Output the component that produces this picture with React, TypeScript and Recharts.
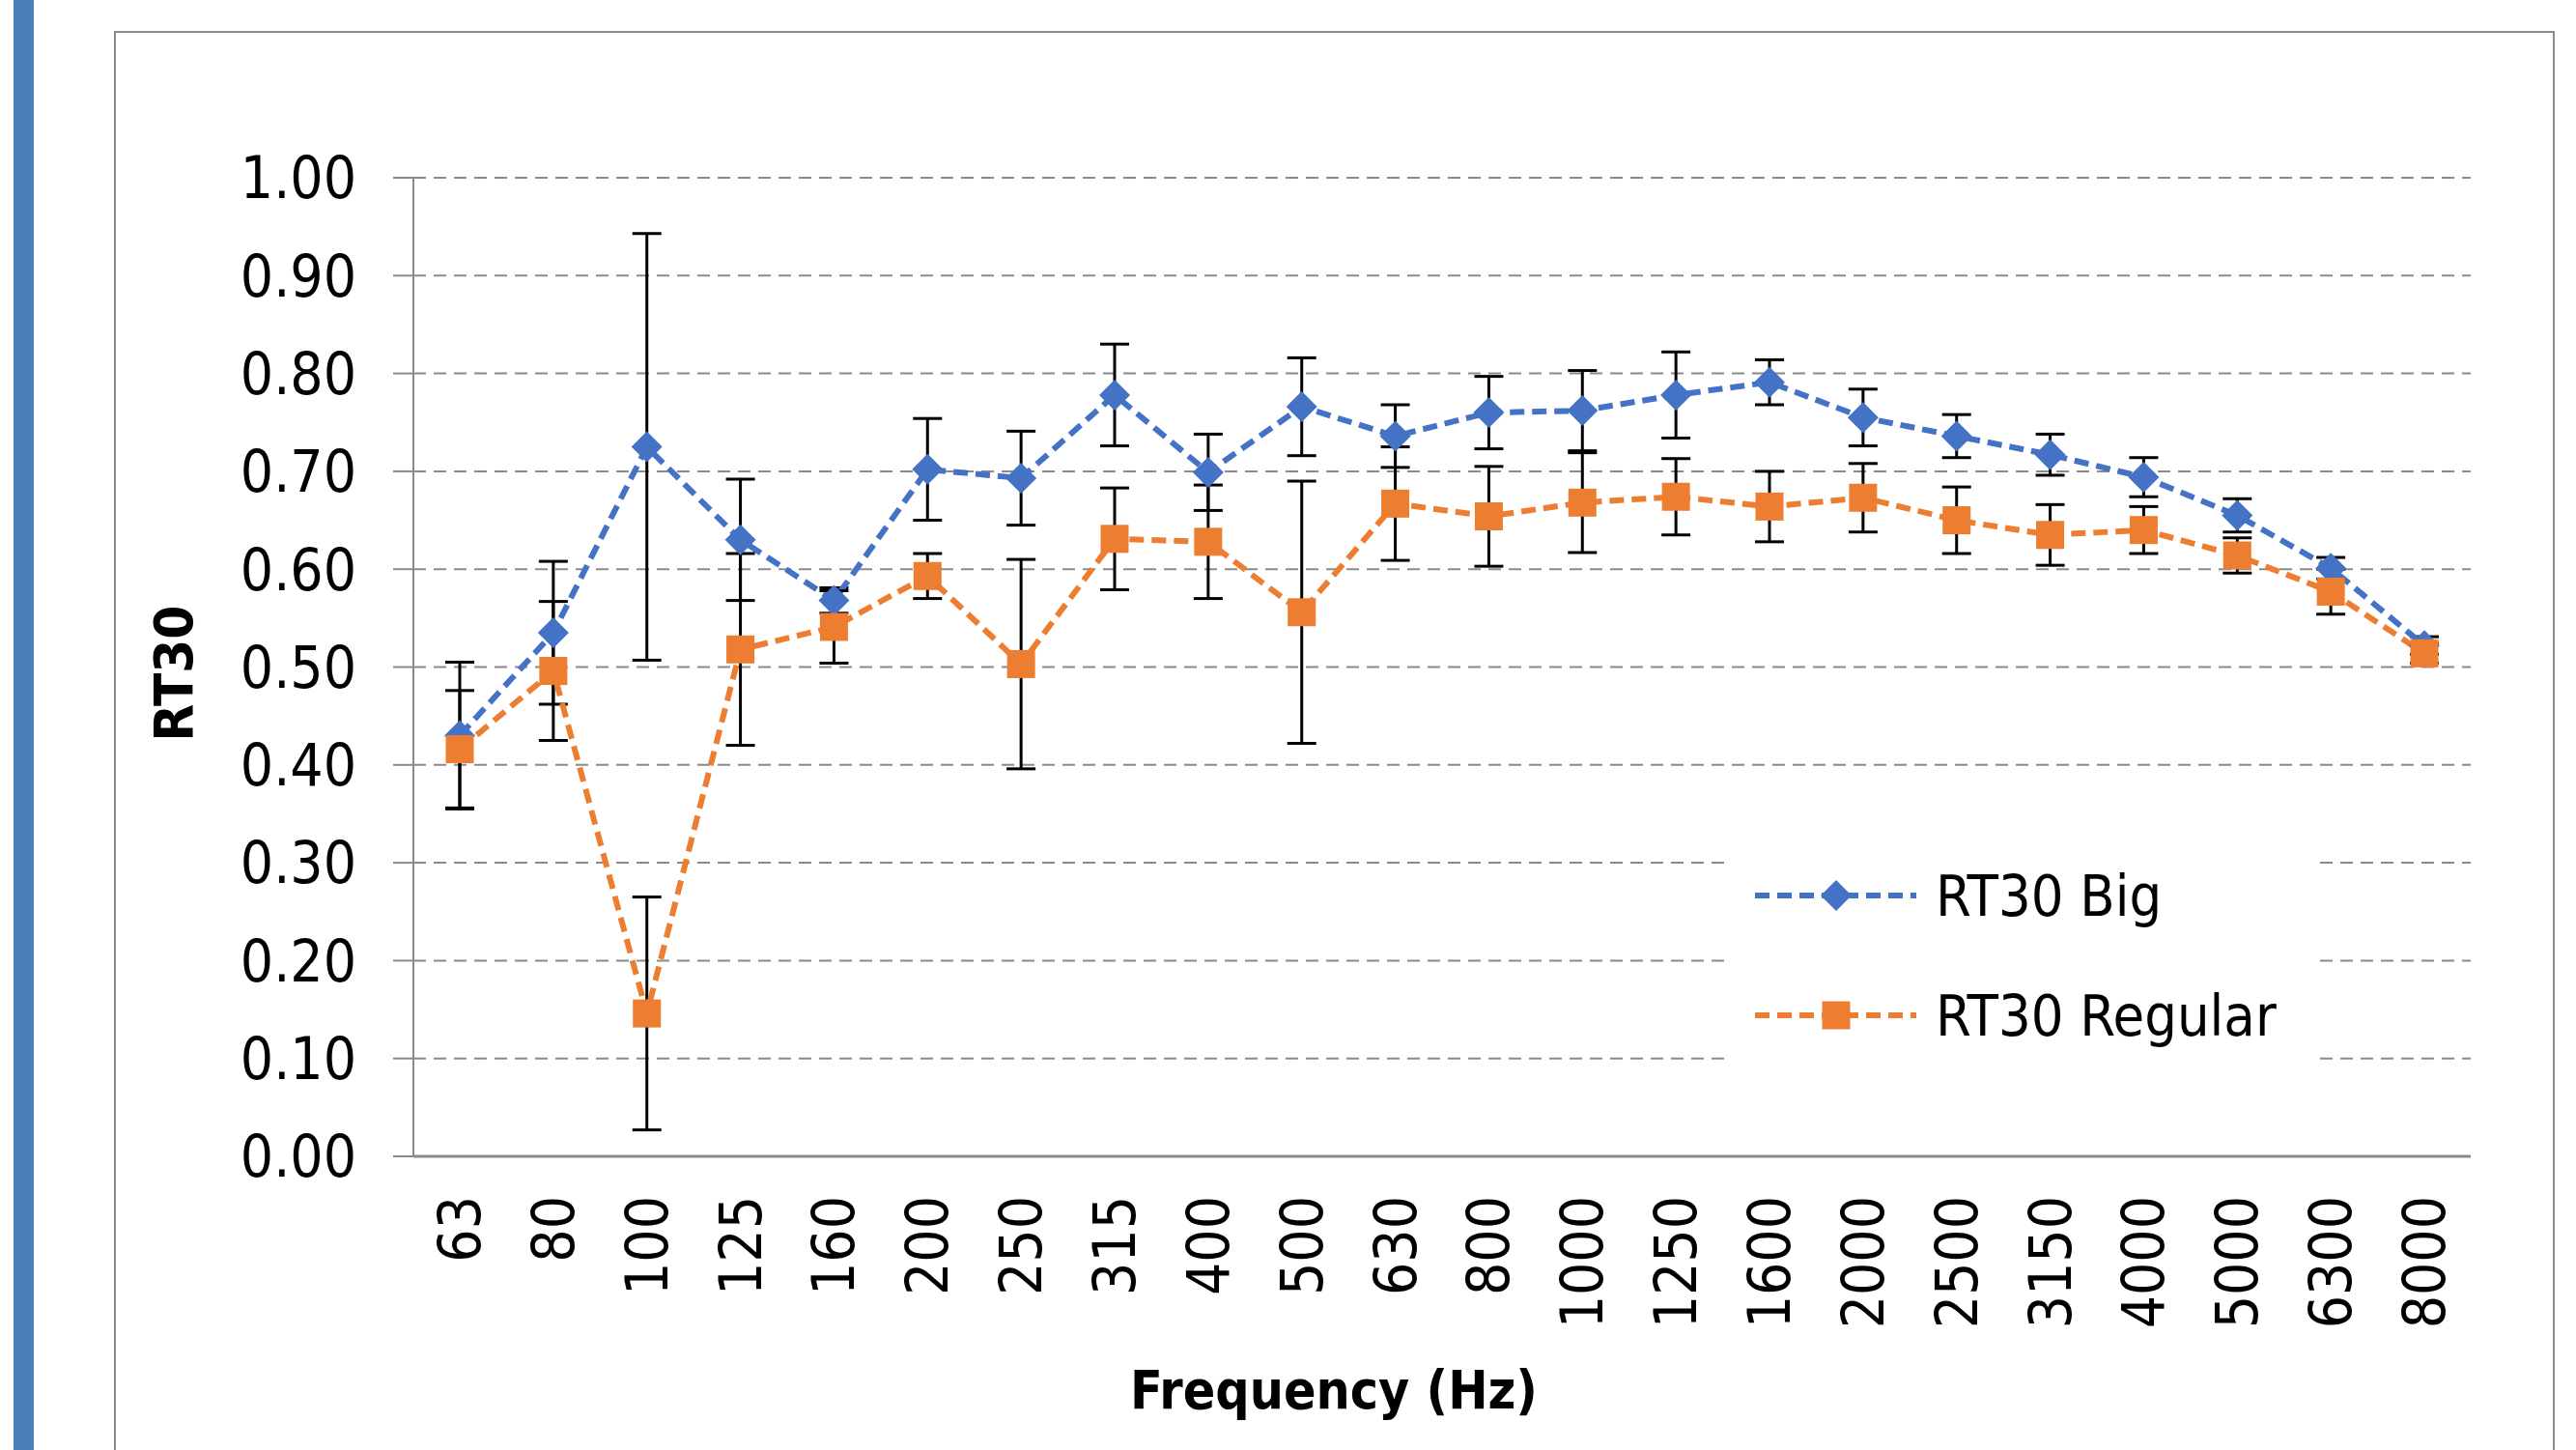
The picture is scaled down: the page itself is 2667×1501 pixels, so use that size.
import React from 'react';
import { LineChart, Line, XAxis, YAxis, CartesianGrid, ErrorBar, Legend } from 'recharts';

const frequencies = ['63', '80', '100', '125', '160', '200', '250', '315', '400', '500', '630', '800', '1000', '1250', '1600', '2000', '2500', '3150', '4000', '5000', '6300', '8000'];
const rt30Big = [0.43, 0.535, 0.725, 0.63, 0.568, 0.702, 0.693, 0.778, 0.699, 0.766, 0.736, 0.76, 0.762, 0.778, 0.791, 0.755, 0.736, 0.717, 0.694, 0.655, 0.601, 0.522];
const rt30BigErr = [0.075, 0.073, 0.218, 0.062, 0.013, 0.052, 0.048, 0.052, 0.039, 0.05, 0.032, 0.037, 0.041, 0.044, 0.023, 0.029, 0.022, 0.021, 0.02, 0.017, 0.011, 0.009];
const rt30Regular = [0.416, 0.496, 0.146, 0.518, 0.541, 0.593, 0.503, 0.631, 0.628, 0.556, 0.667, 0.654, 0.668, 0.674, 0.664, 0.673, 0.65, 0.635, 0.64, 0.614, 0.577, 0.514];
const rt30RegularErr = [0.06, 0.071, 0.119, 0.098, 0.037, 0.023, 0.107, 0.052, 0.058, 0.134, 0.058, 0.051, 0.051, 0.039, 0.036, 0.035, 0.034, 0.031, 0.024, 0.018, 0.023, 0.01];
const yTicks = [0, 0.1, 0.2, 0.3, 0.4, 0.5, 0.6, 0.7, 0.8, 0.9, 1.0];

const data = frequencies.map((f, i) => ({
  freq: f,
  big: rt30Big[i],
  bigErr: rt30BigErr[i],
  regular: rt30Regular[i],
  regularErr: rt30RegularErr[i],
}));

const FONT = '"Liberation Sans Narrow", "Arial Narrow", "DejaVu Sans Condensed", sans-serif';
const BLUE = '#4472C4';
const ORANGE = '#ED7D31';
const GRID = '#8a8a8a';
const DASH = '15 8';

const Diamond = (props: any) => {
  const { cx, cy, index } = props;
  if (cx == null || cy == null) return <g key={`d-${index}`} />;
  const r = 16;
  return <path key={`d-${index}`} d={`M${cx},${cy - r}L${cx + r},${cy}L${cx},${cy + r}L${cx - r},${cy}Z`} fill={BLUE} />;
};

const Square = (props: any) => {
  const { cx, cy, index } = props;
  if (cx == null || cy == null) return <g key={`s-${index}`} />;
  const h = 14.5;
  return <rect key={`s-${index}`} x={cx - h} y={cy - h} width={2 * h} height={2 * h} fill={ORANGE} />;
};

const XTick = (props: any) => {
  const { x, y, payload } = props;
  return (
    <text
      x={x}
      y={y}
      transform={`rotate(-90, ${x}, ${y})`}
      textAnchor="end"
      dominantBaseline="central"
      fontFamily={FONT}
      fontSize={60}
      fill="#000"
    >
      {payload.value}
    </text>
  );
};

const LegendContent = (props: any) => {
  const payload = props.payload || [];
  return (
    <div style={{ width: 612, height: 263, background: '#fff' }}>
      <svg width={612} height={263}>
        {payload.map((entry: any, i: number) => {
          const y = 59 + i * 124;
          const isBig = i === 0;
          return (
            <g key={entry.value}>
              <line x1={31} y1={y} x2={198} y2={y} stroke={entry.color} strokeWidth={6} strokeDasharray={DASH} />
              {isBig ? (
                <path d={`M115,${y - 16}L131,${y}L115,${y + 16}L99,${y}Z`} fill={BLUE} />
              ) : (
                <rect x={100.5} y={y - 14.5} width={29} height={29} fill={ORANGE} />
              )}
              <text x={218} y={y} dominantBaseline="central" fontFamily={FONT} fontSize={59} fill="#000">
                {entry.value}
              </text>
            </g>
          );
        })}
      </svg>
    </div>
  );
};

export default function App() {
  return (
    <div style={{ position: 'fixed', left: 0, top: 0, width: 2667, height: 1501, overflow: 'hidden', background: '#fff' }}>
      <div style={{ position: 'absolute', left: 14, top: 0, width: 21, height: 1501, background: '#4A7EBB' }} />
      <div style={{ position: 'absolute', left: 118, top: 32, width: 2527, height: 1600, border: '2px solid #8c8c8c', boxSizing: 'border-box' }} />
      <div style={{ position: 'absolute', left: 0, top: 0 }}>
        <LineChart width={2667} height={1501} data={data} margin={{ top: 184, right: 109, left: 0, bottom: 0 }}>
          <CartesianGrid vertical={false} stroke={GRID} strokeWidth={2} strokeDasharray="13 8" />
          <XAxis
            dataKey="freq"
            height={304}
            padding={{ left: 48, right: 48 }}
            axisLine={{ stroke: '#8a8a8a', strokeWidth: 3 }}
            tickLine={false}
            tickSize={0}
            tickMargin={41}
            interval={0}
            tick={<XTick />}
            label={(p: any) => (
              <text x={1381} y={1439} textAnchor="middle" dominantBaseline="central" fontFamily={FONT} fontWeight="bold" fontSize={55} fill="#000">
                Frequency (Hz)
              </text>
            )}
          />
          <YAxis
            width={428}
            domain={[0, 1]}
            ticks={yTicks}
            interval={0}
            tickFormatter={(v: number) => v.toFixed(2)}
            axisLine={{ stroke: '#8a8a8a', strokeWidth: 2 }}
            tickLine={{ stroke: '#8a8a8a', strokeWidth: 2 }}
            tickSize={21}
            tickMargin={38}
            tick={{ fontFamily: FONT, fontSize: 60, fill: '#000' }}
            label={(p: any) => (
              <text x={179} y={697} transform="rotate(-90, 179, 697)" textAnchor="middle" dominantBaseline="central" fontFamily={FONT} fontWeight="bold" fontSize={56} fill="#000">
                RT30
              </text>
            )}
          />
          <Legend
            layout="vertical"
            align="center"
            verticalAlign="middle"
            content={<LegendContent />}
            wrapperStyle={{ left: 1786, top: 868, width: 612, height: 263 }}
          />
          <Line
            dataKey="big"
            name="RT30 Big"
            stroke={BLUE}
            strokeWidth={6}
            strokeDasharray={DASH}
            dot={Diamond}
            activeDot={false}
            isAnimationActive={false}
          >
            <ErrorBar dataKey="bigErr" direction="y" width={15} stroke="#000" strokeWidth={3} isAnimationActive={false} />
          </Line>
          <Line
            dataKey="regular"
            name="RT30 Regular"
            stroke={ORANGE}
            strokeWidth={6}
            strokeDasharray={DASH}
            dot={Square}
            activeDot={false}
            isAnimationActive={false}
          >
            <ErrorBar dataKey="regularErr" direction="y" width={15} stroke="#000" strokeWidth={3} isAnimationActive={false} />
          </Line>
        </LineChart>
      </div>
    </div>
  );
}
